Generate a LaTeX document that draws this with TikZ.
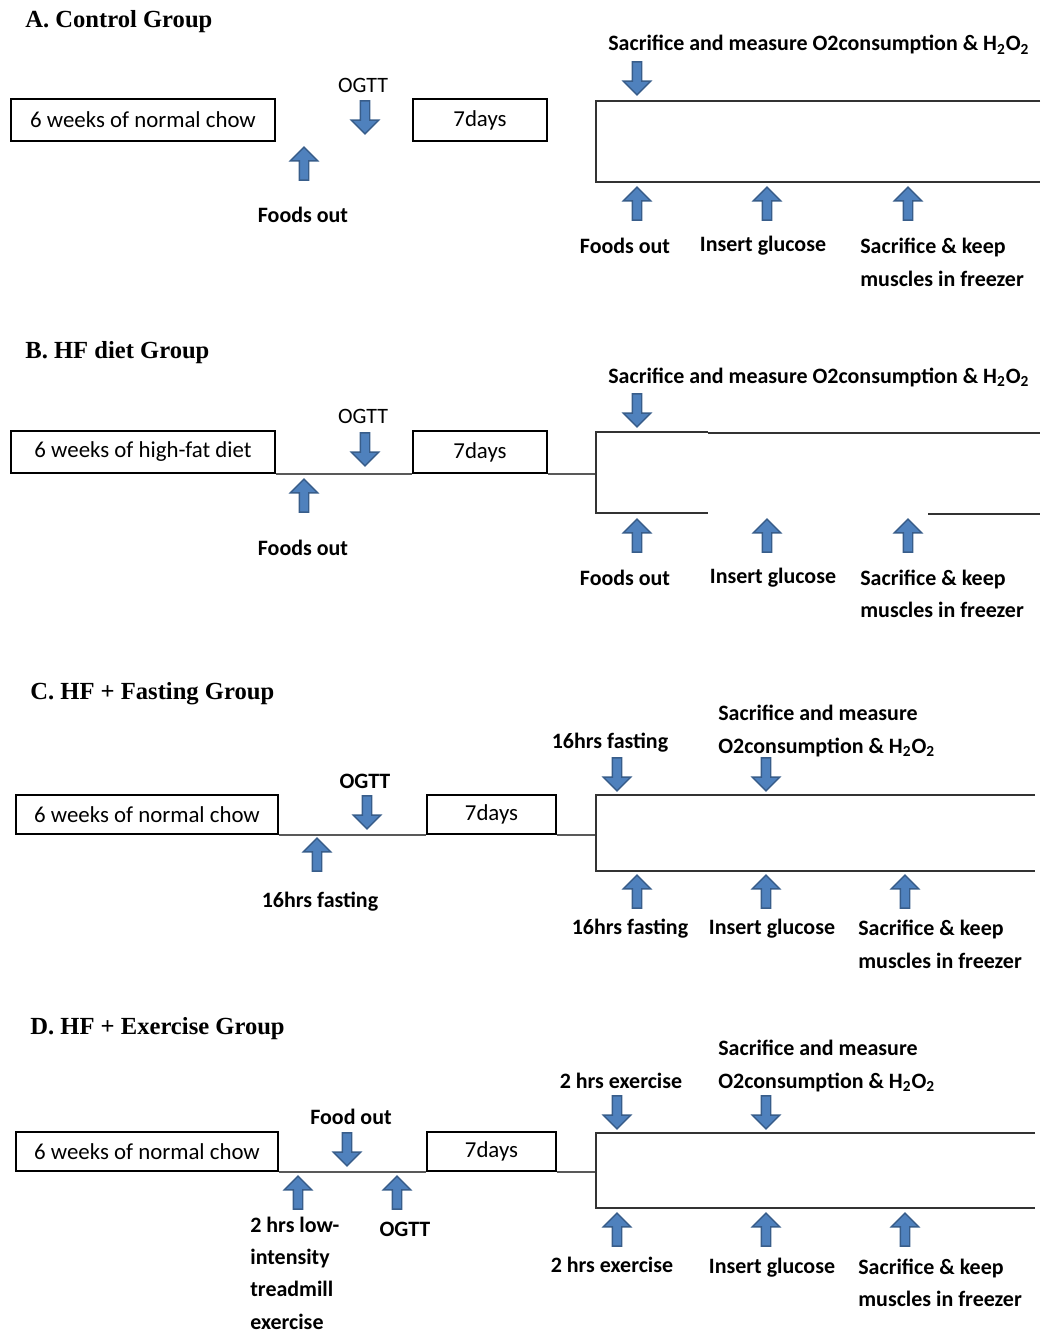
\documentclass[tikz,border=0pt]{standalone}
\usepackage{fontspec}
\setmainfont{Carlito}
\newfontfamily\headfont{Liberation Serif}
\usetikzlibrary{shapes,arrows,positioning,calc}

\definecolor{arrowblue}{RGB}{79,129,189}
\definecolor{arrowedge}{RGB}{56,93,138}

\begin{document}
\begin{tikzpicture}[
    x=0.02cm, y=-0.02cm,
    heading/.style={anchor=west, inner sep=0, font=\headfont\bfseries\fontsize{14}{16}\selectfont},
    period/.style={rectangle, draw, line width=1.6pt, inner sep=0, font=\fontsize{13}{15}\selectfont},
    lbl/.style={inner sep=0, font=\bfseries\fontsize{12.5}{15}\selectfont},
    stack/.style={lbl, anchor=west, align=left, font=\bfseries\fontsize{12.5}{18.4}\selectfont},
    plainlbl/.style={inner sep=0, font=\fontsize{12.5}{15}\selectfont},
    blockarrow/.style={single arrow, draw=arrowedge, fill=arrowblue, line width=0.8pt,
        minimum height=0.66cm, inner sep=0.08cm, single arrow head extend=0.18cm,
        single arrow tip angle=90},
    downarrow/.style={blockarrow, shape border rotate=270},
    uparrow/.style={blockarrow, shape border rotate=90},
    timeline/.style={draw=black!65, line width=1.2pt},
    frame/.style={draw=black!80, line width=1.1pt}
  ]
  \useasboundingbox (0,0) rectangle (1055,1333);

  % A. Control group
  \node[heading] (titleA) at (25,22) {A. Control Group};
  \node[period, minimum width=5.28cm, minimum height=0.84cm] (chowA) at (143,120) {6 weeks of normal chow};
  \node[period, minimum width=2.68cm, minimum height=0.84cm] (daysA) at (480,120) {7days};
  \node[downarrow] (ogttA) at (365,115) {};
  \node[plainlbl] (ogttAl) at (363,85) {OGTT};
  \node[uparrow] (foodA) at (304,166) {};
  \node[lbl] (foodAl) at (303,215) {Foods out};

  \draw[frame] (1040,101) -- (596,101) -- (596,182) -- (1040,182);
  \node[downarrow] (sacA) at (637,76) {};
  \node[lbl, anchor=west] (sacAl) at (608,45) {Sacrifice and measure O2consumption \& H\textsubscript{2}O\textsubscript{2}};
  \node[uparrow] (outA) at (637,206) {};
  \node[uparrow] (glucA) at (767,206) {};
  \node[uparrow] (keepA) at (908,206) {};
  \node[lbl] (outAl) at (625,246) {Foods out};
  \node[lbl] (glucAl) at (763,246) {Insert glucose};
  \node[stack] (keepAl) at (860,262.5) {Sacrifice \& keep\\muscles in freezer};

  % B. HF diet group
  \node[heading] (titleB) at (25,353) {B. HF diet Group};
  \node[period, minimum width=5.28cm, minimum height=0.84cm] (chowB) at (143,452) {6 weeks of high-fat diet};
  \node[period, minimum width=2.68cm, minimum height=0.84cm] (daysB) at (480,452) {7days};
  \coordinate (frameB) at (596,473);
  \draw[timeline] (chowB.south east) -- (daysB.south west);
  \draw[timeline] (daysB.south east) -- (daysB.south east -| frameB);
  \node[downarrow] (ogttB) at (365,447) {};
  \node[plainlbl] (ogttBl) at (363,416) {OGTT};
  \node[uparrow] (foodB) at (304,498) {};
  \node[lbl] (foodBl) at (303,548) {Foods out};

  \draw[frame] (708,432) -- (596,432) -- (596,513) -- (708,513);
  \draw[frame] (708,433) -- (1040,433);
  \draw[frame] (928,514) -- (1040,514);
  \node[downarrow] (sacB) at (637,408) {};
  \node[lbl, anchor=west] (sacBl) at (608,377) {Sacrifice and measure O2consumption \& H\textsubscript{2}O\textsubscript{2}};
  \node[uparrow] (outB) at (637,538) {};
  \node[uparrow] (glucB) at (767,538) {};
  \node[uparrow] (keepB) at (908,538) {};
  \node[lbl] (outBl) at (625,578) {Foods out};
  \node[lbl] (glucBl) at (773,578) {Insert glucose};
  \node[stack] (keepBl) at (860,594) {Sacrifice \& keep\\muscles in freezer};

  % C. HF + fasting group
  \node[heading] (titleC) at (30,694) {C. HF + Fasting Group};
  \node[period, minimum width=5.24cm, minimum height=0.78cm] (chowC) at (147,814.5) {6 weeks of normal chow};
  \node[period, minimum width=2.58cm, minimum height=0.78cm] (daysC) at (491.5,814.5) {7days};
  \coordinate (frameC) at (596,834);
  \draw[timeline] (chowC.south east) -- (daysC.south west);
  \draw[timeline] (daysC.south east) -- (daysC.south east -| frameC);
  \node[downarrow] (ogttC) at (367,810) {};
  \node[lbl] (ogttCl) at (365,781) {OGTT};
  \node[uparrow] (fastC) at (317,857) {};
  \node[lbl] (fastCl) at (320,902) {16hrs fasting};

  \draw[frame] (1035,795) -- (596,795) -- (596,871) -- (1035,871);
  \node[downarrow] (fastC2) at (617,772) {};
  \node[lbl] (fastC2l) at (610,743) {16hrs fasting};
  \node[downarrow] (sacC) at (766,772) {};
  \node[stack] (sacCl) at (718,731) {Sacrifice and measure\\O2consumption \& H\textsubscript{2}O\textsubscript{2}};
  \node[uparrow] (outC) at (637,894) {};
  \node[uparrow] (glucC) at (766,894) {};
  \node[uparrow] (keepC) at (905,894) {};
  \node[lbl] (outCl) at (630,929) {16hrs fasting};
  \node[lbl] (glucCl) at (772,929) {Insert glucose};
  \node[stack] (keepCl) at (858,944.5) {Sacrifice \& keep\\muscles in freezer};

  % D. HF + exercise group
  \node[heading] (titleD) at (30,1029) {D. HF + Exercise Group};
  \node[period, minimum width=5.24cm, minimum height=0.78cm] (chowD) at (147,1151.5) {6 weeks of normal chow};
  \node[period, minimum width=2.58cm, minimum height=0.78cm] (daysD) at (491.5,1151.5) {7days};
  \coordinate (frameD) at (596,1171);
  \draw[timeline] (chowD.south east) -- (daysD.south west);
  \draw[timeline] (daysD.south east) -- (daysD.south east -| frameD);
  \node[downarrow] (foodD) at (347,1147) {};
  \node[lbl] (foodDl) at (351,1117) {Food out};
  \node[uparrow] (runD) at (298,1195) {};
  \node[stack] (runDl) at (250,1273) {2 hrs low-\\intensity\\treadmill\\exercise};
  \node[uparrow] (ogttD) at (397,1195) {};
  \node[lbl] (ogttDl) at (405,1229) {OGTT};

  \draw[frame] (1035,1133) -- (596,1133) -- (596,1208) -- (1035,1208);
  \node[downarrow] (exD) at (617,1110) {};
  \node[lbl] (exDl) at (621,1081) {2 hrs exercise};
  \node[downarrow] (sacD) at (766,1110) {};
  \node[stack] (sacDl) at (718,1066) {Sacrifice and measure\\O2consumption \& H\textsubscript{2}O\textsubscript{2}};
  \node[uparrow] (outD) at (617,1232) {};
  \node[uparrow] (glucD) at (766,1232) {};
  \node[uparrow] (keepD) at (905,1232) {};
  \node[lbl] (outDl) at (612,1265) {2 hrs exercise};
  \node[lbl] (glucDl) at (772,1268) {Insert glucose};
  \node[stack] (keepDl) at (858,1283) {Sacrifice \& keep\\muscles in freezer};

\end{tikzpicture}
\end{document}
